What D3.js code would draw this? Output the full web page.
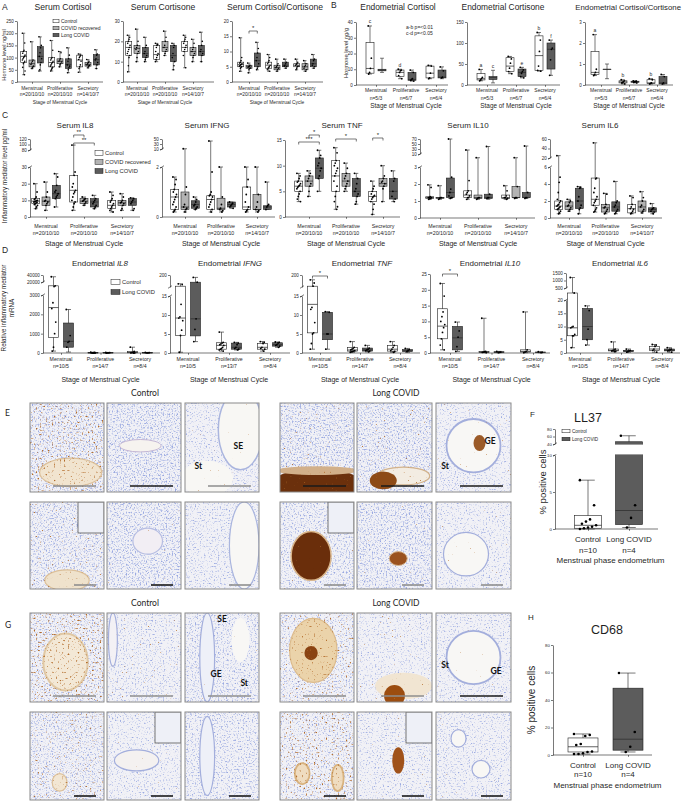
<!DOCTYPE html>
<html>
<head>
<meta charset="utf-8">
<title>Long COVID endometrium figure</title>
<script src="https://cdn.jsdelivr.net/npm/d3@7"></script>
<style>
  body { margin: 0; background: #fff; }
  svg { display: block; }
</style>
</head>
<body>
<script>
// ---- values ----
var stages = ["Menstrual", "Proliferative", "Secretory"]
var serumGroups = ["Control", "COVID recovered", "Long COVID"]
var endoGroups = ["Control", "Long COVID"]
var serumN = ["n=20/10/10", "n=20/10/10", "n=14/10/7"]
var endoHormoneN = ["n=5/3", "n=6/7", "n=6/4"]
var mrnaN = ["n=10/5", "n=14/7", "n=8/4"]
var mrnaIfngN = ["n=10/5", "n=13/7", "n=8/4"]
var ihcCats = ["Control", "Long COVID"]
var ihcN = ["n=10", "n=4"]

// box stats are [min, q1, median, q3, max]; order = stage x group
var serumCortisol = [[30,80,105,125,200],[55,62,75,90,165],[45,78,105,145,185],[45,62,80,100,170],[62,75,85,95,125],[38,55,72,95,140],[40,62,90,110,115],[58,65,72,80,92],[55,70,92,112,132]]
var serumCortisolPts = [[200,160,130,125,118,110,105,100,95,90,85,80,75,60,45,30],[165,90,85,78,72,65,60,55],[185,150,140,120,105,95,80,70,50,45],[170,130,100,95,90,85,80,75,70,65,60,55,50,45],[125,120,95,90,85,82,75,70,62],[140,110,95,85,70,65,58,50,38],[115,110,105,100,92,85,70,62,55,40],[92,85,80,75,70,68,65,58],[132,115,110,95,90,80,70,55]]
var serumCortisone = [[5,13,17,20,23],[10,14,16.5,18,26],[10,12,14,17,22],[10,11,13.5,18,19],[13,15,17,20,25],[6,10,13,18,19],[7,15,17,20,23],[10,13,15,17,21],[10,13,15,18,24.5]]
var serumCortisonePts = [[23,22,21,20,19,18,17,16,15,14,13,12,8,5],[26,20,18,17,16,15,14,12,10],[22,18,17,15,14,13,12,11,10],[19,18.5,18,17,15,14,13,12,11,10],[25,22,20,18,17,16,15,14,13],[19,18,17,14,12,10,8,6],[23,22,21,20,19,18,17,16,15,13,7],[21,19,17,16,15,14,13,12,10],[24.5,20,18,16,15,14,13,10]]
var serumRatio = [[3.5,5,5.7,6.5,14.5],[3,4.5,5,5.5,6.2],[4,5,7,9.5,13],[3.5,4.5,5.5,6.5,9],[3.5,4,4.7,5.5,7.5],[4.5,5,5.5,6.5,7.5],[4,5,5.5,6,7.5],[3.5,4,5,6,7],[4.5,5,6,7.5,9]]
var serumRatioPts = [[14.5,8,7,6.5,6.2,6,5.8,5.6,5.4,5.2,5,4.8,4.5,3.5],[6.2,5.5,5.2,5,4.8,4.6,4.5,4,3],[13,11,9.5,8,7,6,5,4.5,4],[9,8,7,6.5,6,5.5,5,4.8,4.5,4,3.5],[7.5,6,5.5,5,4.7,4.5,4,3.5],[7.5,6.5,6,5.5,5.2,5,4.5],[7.5,6.5,6,5.8,5.5,5.2,5,4.5,4],[7,6,5.5,5,4.5,4,3.5],[9,7.5,7,6,5.5,5,4.5]]

var endoCortisol = [[7,7.5,10.5,27,37.5],[8,9,9.5,10,17],[4,5.5,8,9.5,10],[2.5,3,3.5,8,9.5],[4,4.5,7.5,12,12.5],[4,4.5,5,9.5,11.5]]
var endoCortisolPts = [[37.5,17,10.5,8,7],[],[10,9.5,9,8,6,4],[9.5,8,4,3.5,3,2.5],[12.5,12,7.5,4.5,4],[11.5,9,5,4.5]]
var endoCortisone = [[10,12,15,27,37],[5,13,18,20,35],[27,32,45,65,68],[17,20,30,38,42],[33,35,70,117,125],[23,38,85,100,107]]
var endoCortisonePts = [[37,18,15,12,10],[],[68,62,52,40,32,27],[42,36,32,28,20,17],[125,107,80,45,35,33],[107,88,85,60,23]]
var endoRatio = [[0.45,0.5,0.6,1.6,2.4],[0.3,0.75,0.75,0.75,1.0],[0.05,0.1,0.15,0.2,0.25],[0.1,0.13,0.16,0.18,0.2],[0.05,0.08,0.1,0.25,0.3],[0.05,0.05,0.1,0.4,0.5]]
var endoRatioPts = [[2.4,0.75,0.6,0.5,0.45],[],[0.25,0.2,0.15,0.12,0.1,0.05],[0.2,0.18,0.16,0.15,0.13,0.1],[0.3,0.25,0.1,0.08,0.05],[0.5,0.4,0.1,0.05]]

var serumIL8 = [[5,8,9.5,11,20],[4,7,9.5,12,21],[6,11,14,19,26],[4,9,16,25,98],[7,8,9.5,11,12],[5,6,9,11,13],[3,5,7,10,15],[4,7,8.5,10,14],[4,7,9,11,11.5]]
var serumIL8Pts = [[20,15,12,11,10.5,10,9.8,9.5,9.2,9,8.8,8.5,8,7.5,7,6,5],[21,15,12,10,9.5,9,8,7,4],[26,24,19,16,15,14,13,12,11,6],[98,27,25,20,18,16,15,14,12,10,9,8,6,4],[12,11,10.5,10,9.5,9,8,7],[13,11,10,9,8,7,6,5],[15,13,11,10,9,8,7,6,5,4,3],[14,12,10,9,8.5,8,7,5,4],[11.5,11,10,9,8,5,4]]
var serumIFNG = [[0.2,0.3,0.8,1.1,1.6],[0.2,0.3,0.4,1.0,11],[0.3,0.35,0.5,0.65,0.8],[0.2,0.3,0.7,0.85,42],[0.2,0.3,0.35,0.75,2],[0.35,0.4,0.5,0.6,0.6],[0.2,0.3,0.4,1.2,2],[0.2,0.3,0.3,0.9,2],[0.3,0.3,0.4,0.45,1.4]]
var serumIFNGPts = [[1.6,1.5,1.3,1.1,1.0,0.9,0.8,0.7,0.6,0.5,0.4,0.3,0.25,0.2],[11,1.2,0.9,0.5,0.4,0.35,0.3,0.2],[0.8,0.7,0.6,0.5,0.45,0.4,0.35,0.3],[42,1.8,1.0,0.9,0.85,0.8,0.7,0.6,0.5,0.4,0.3,0.2],[2,0.8,0.5,0.35,0.3,0.25,0.2],[0.6,0.55,0.5,0.45,0.4,0.35],[2,1.5,1.2,0.9,0.6,0.4,0.3,0.25,0.2],[2,0.9,0.6,0.4,0.3,0.25,0.2],[1.4,0.5,0.45,0.4,0.3]]
var serumTNF = [[3,5,6,7,8.5],[4,6,7,8,9],[5,7.5,9.5,11.5,13],[1.5,5,8,11,13.5],[5,6,7,8.5,10.5],[2.5,4,5,7.5,8.5],[0.5,3,4,5,7],[3,6,6.5,7.5,10],[3,3.5,5,7.5,9]]
var serumTNFPts = [[8.5,8,7.5,7,6.8,6.5,6.2,6,5.8,5.5,5,4.5,4,3.5,3],[9,8.5,8,7.5,7,6.5,6,5,4],[13,12,11.5,10.5,10,9.5,9,8,7.5,5],[13.5,12.5,11,10.5,10,9.5,9,8.5,8,7,6,5,4,3,2,1.5],[10.5,9.5,8.5,8,7.5,7,6.5,6,5.5,5],[8.5,7.5,6.5,5.5,5,4.5,4,3,2.5],[7,6,5.5,5,4.5,4.2,4,3.8,3.5,3,2.5,1.5,0.5],[10,8,7.5,7,6.8,6.5,6,5.5,3],[9,7.5,7,5,4,3.5,3]]
var serumIL10 = [[1.1,1.15,1.2,1.25,1.95],[1.1,1.15,1.2,1.2,1.9],[1.15,1.2,1.5,2.35,70],[1.1,1.2,1.35,1.6,26],[1.1,1.15,1.2,1.35,8],[1.1,1.15,1.2,1.4,40],[1.1,1.15,1.2,1.35,1.9],[1.15,1.2,1.2,1.85,8],[1.15,1.2,1.2,1.5,42]]
var serumIL10Pts = [[1.95,1.8,1.25,1.2,1.2,1.2,1.15,1.15,1.1],[1.9,1.2,1.2,1.15,1.1],[70,2.4,1.7,1.5,1.3,1.2,1.2,1.15],[26,2.2,1.6,1.5,1.4,1.3,1.2,1.2,1.1],[8,1.2,1.2,1.15,1.1],[40,1.4,1.2,1.2,1.15],[1.9,1.6,1.3,1.2,1.2,1.15,1.1],[8,1.85,1.2,1.2,1.15],[42,1.5,1.2,1.2,1.15]]
var serumIL6 = [[0.5,1.0,1.4,2.0,25],[0.8,1.0,1.4,1.9,2.2],[0.5,1.1,2.0,3.5,3.7],[0.7,1.5,2.2,4.7,52],[0.5,0.7,1.2,1.6,2.9],[0.5,0.8,1.3,1.9,4.3],[0.5,0.6,1.1,1.6,2.6],[0.6,0.8,1.3,2.0,3.1],[0.5,0.7,1.0,1.2,1.7]]
var serumIL6Pts = [[25,4.8,4.2,3,2.2,2,1.8,1.6,1.5,1.4,1.3,1.2,1.1,1,0.8,0.6,0.5],[2.2,2,1.8,1.5,1.4,1.2,1,0.8],[3.7,3.6,3.5,2.5,2,1.5,1.2,1,0.5],[52,4.7,4.6,3.5,3,2.5,2.2,2,1.8,1.5,1.2,1,0.8,0.7],[2.9,2.8,1.6,1.3,1.2,1,0.8,0.6,0.5],[4.3,2,1.8,1.5,1.3,1,0.8,0.6,0.5],[2.6,2.4,1.6,1.3,1.1,1,0.8,0.6,0.5],[3.1,2.4,2,1.5,1.3,1,0.8,0.6],[1.7,1.2,1.1,1,0.8,0.7,0.5]]

var endoIL8 = [[100,800,2350,15000,35000],[50,300,600,1550,2250],[0,5,10,20,40],[0,5,10,20,30],[0,10,30,80,300],[0,5,10,20,30]]
var endoIL8Pts = [[35000,15000,14000,2600,2300,1600,1000,300,100],[2250,900,600,550,300],[40,30,20,10,8,5,3,1],[30,20,10,5,0],[300,80,40,20,10,5,0],[30,20,10,5]]
var endoIFNG = [[0.2,4.6,9.2,60,90],[3,4.5,9,110,170],[0.5,1,2,2.7,5.5],[0.8,1,1.5,2.6,2.8],[0.5,1,1.5,2.5,3],[1.5,1.8,2.2,2.7,2.9]]
var endoIFNGPts = [[90,80,12.8,9.5,9.2,8.5,6,4.6,0.2],[170,110,9,6.2,3],[5.5,2.8,2.6,2.4,2.2,2,1.5,1.2,1,0.8,0.5],[2.8,2.6,2.2,1.5,1.2,1,0.8],[3,2.8,2.5,1.5,1.2,1,0.5],[2.9,2.8,2.6,2.2,2,1.8,1.5]]
var endoTNF = [[1,5.3,12.8,60,140],[1,3.5,5,10.7,10.9],[0.2,0.5,0.8,1.5,3],[0.3,0.5,0.8,1.3,2],[0.2,0.5,1,2,3],[0.2,0.4,0.6,0.9,1.2]]
var endoTNFPts = [[140,100,60,12,11.5,8,5.3,5,2.5,1],[10.9,10.7,5,5,1],[3,1.5,1.2,1,0.8,0.6,0.5,0.4,0.3,0.2],[2,1.3,1,0.8,0.6,0.5,0.3],[3,2,1.5,1,0.6,0.4,0.2],[1.2,0.9,0.6,0.4]]
var endoIL10 = [[1,4.5,8.5,14,22],[0.5,1,4.8,8.4,9.8],[0.1,0.2,0.3,0.5,11],[0.1,0.2,0.25,0.4,0.5],[0.1,0.3,0.5,1,13],[0.1,0.15,0.2,0.3,0.4]]
var endoIL10Pts = [[22,18,13,11.5,10,9,8,6.5,4.5,2.5,1],[9.8,7,5,2,0.5],[11,0.5,0.4,0.3,0.2,0.1],[0.5,0.3,0.2,0.1],[13,1,0.5,0.3,0.1],[0.4,0.2,0.1]]
var endoIL6 = [[2,6.5,9.5,300,1200],[3,5,10,16.8,17.8],[0.5,0.8,1,1.5,4.2],[0.3,0.5,0.8,1,1.5],[0.3,1,1.5,2.5,3.2],[0.3,0.8,1,1.5,2]]
var endoIL6Pts = [[1200,300,10,9.8,9.5,7,6.5,6.5,2],[17.8,16,9,5,3],[4.2,1.5,1.2,1,0.8,0.6,0.5],[1.5,1,0.8,0.5,0.3],[3.2,3,2.5,1.5,1,0.3],[2,1.5,1.2,1,0.8,0.3]]

var ll37 = [[0,0.1,0.5,1.8,6.6],[0.2,0.6,2.5,46,62]]
var ll37Pts = [[6.6,3.2,1.3,1,0.7,0.5,0.3,0.2,0.1,0],[62,3.2,1.5,0.2]]
var cd68 = [[0.7,2.2,6,12.4,15.3],[2.2,3.5,11.5,48.6,59.6]]
var cd68Pts = [[15.3,14.5,13.8,8,7.3,2.5,2.2,1.2,0.7,0.7],[59.6,16.7,6,2.2]]

// ---- drawing ----
var FONT = '"Liberation Sans", Arial, sans-serif'
var INK = "#1f1f1f"
var WHITE = "#ffffff", GREY = "#b3b3b3", DARK = "#5c5c5c"

var svg = d3.select("body").append("svg").attr("width", 683).attr("height", 804)
  .style("font-family", FONT)
var defs = svg.append("defs")

function txt(x, y, s, fs, anchor, g) {
  return (g || svg).append("text").attr("x", x).attr("y", y).attr("font-size", fs)
    .attr("text-anchor", anchor || "middle").attr("fill", INK).text(s)
}

function boxPanel(c) {
  var g = svg.append("g")
  var ys = c.segs.map(s => d3.scaleLinear().domain(s.dom).range(s.rng))
  var y = v => {
    for (var i = 0; i < c.segs.length; i++) {
      var d = c.segs[i].dom
      if (v < d[0] && i > 0) {
        var p = c.segs[i - 1]
        return d3.scaleLinear().domain([p.dom[1], d[0]]).range([p.rng[1], c.segs[i].rng[0]])(v)
      }
      if (v <= d[1] || i == c.segs.length - 1) return ys[i](v)
    }
  }
  var base = c.segs[0].rng[0]
  // y axis, one piece per segment
  c.segs.forEach((s, i) => {
    var a = g.append("g").attr("transform", `translate(${c.ax},0)`)
      .call(d3.axisLeft(ys[i]).tickValues(s.ticks).tickSize(2).tickSizeOuter(0).tickPadding(1.2).tickFormat(d3.format("d")))
    a.attr("font-family", null).attr("font-size", null)
    a.selectAll("path,line").attr("stroke", INK).attr("stroke-width", 0.6)
    a.selectAll("text").attr("font-size", c.tfs).attr("fill", INK)
    if (i > 0) {
      [c.segs[i - 1].rng[1], s.rng[0]].forEach(yy => {
        g.append("line").attr("x1", c.ax - 2).attr("x2", c.ax + 2).attr("y1", yy + 1.3).attr("y2", yy - 1.3)
          .attr("stroke", INK).attr("stroke-width", 0.6)
      })
    }
  })
  // x axis
  var xg = d3.scalePoint().domain(c.cats).range([c.c0, c.c2])
  var xs = d3.scalePoint().domain(c.series).range(c.series.length > 1 ? [-c.off, c.off] : [0, 0])
  g.append("line").attr("x1", c.ax).attr("x2", c.xEnd).attr("y1", base).attr("y2", base)
    .attr("stroke", INK).attr("stroke-width", 0.6)
  var xa = g.append("g").attr("transform", `translate(0,${base})`)
    .call(d3.axisBottom(xg).tickSize(1.8).tickFormat(""))
  xa.select(".domain").remove()
  xa.selectAll("line").attr("stroke", INK).attr("stroke-width", 0.6)

  c.cats.forEach((cat, gi) => {
    txt(xg(cat), c.catY, cat, c.cfs, "middle", g)
    if (c.ns) txt(xg(cat), c.nY, c.ns[gi], c.cfs, "middle", g)
  })
  txt((c.c0 + c.c2) / 2 + (c.stageDx || 0), c.stageY, c.stage, c.sfs, "middle", g)

  // title
  var t = g.append("text").attr("x", c.tx).attr("y", c.ty).attr("font-size", c.ttfs)
    .attr("text-anchor", c.tAnchor || "middle").attr("fill", INK)
  c.title.forEach(p => t.append("tspan").text(p[0]).attr("font-style", p[1] ? "italic" : null))

  // boxes
  c.cats.forEach((cat, gi) => c.series.forEach((ser, si) => {
    var k = gi * c.series.length + si
    var st = c.stats[k], cx = xg(cat) + xs(ser), hw = c.bw / 2
    var fill = c.boxFills ? c.boxFills[k] : c.fills[si]
    var b = g.append("g")
    b.append("line").attr("x1", cx).attr("x2", cx).attr("y1", y(st[0])).attr("y2", y(st[4]))
      .attr("stroke", INK).attr("stroke-width", 0.6)
    ;[st[0], st[4]].forEach(v => b.append("line").attr("x1", cx - hw * 0.5).attr("x2", cx + hw * 0.5)
      .attr("y1", y(v)).attr("y2", y(v)).attr("stroke", INK).attr("stroke-width", 0.6))
    b.append("rect").attr("x", cx - hw).attr("width", c.bw).attr("y", y(st[3]))
      .attr("height", Math.max(0.4, y(st[1]) - y(st[3]))).attr("fill", fill)
      .attr("stroke", INK).attr("stroke-width", 0.6)
    b.append("line").attr("x1", cx - hw).attr("x2", cx + hw).attr("y1", y(st[2])).attr("y2", y(st[2]))
      .attr("stroke", fill == DARK ? "#2a2a2a" : INK).attr("stroke-width", 0.7)
    var pts = c.pts[k] || []
    b.selectAll("circle").data(pts).join("circle")
      .attr("cx", (v, i) => cx + (((i * 7) % 9) - 4) / 4 * hw * (c.spread || 0.45))
      .attr("cy", v => y(v)).attr("r", c.pr || 0.9).attr("fill", "#000")
  }))
  if (c.cutGap) {
    g.append("rect").attr("x", c.ax + 0.5).attr("width", c.xEnd - c.ax)
      .attr("y", c.segs[1].rng[0] + 0.6).attr("height", c.segs[0].rng[1] - c.segs[1].rng[0] - 1.2).attr("fill", "#fff")
  }
  ;(c.sigs || []).forEach(s => {
    var x1 = xg(c.cats[s.g]) + xs(c.series[s.a]), x2 = xg(c.cats[s.g]) + xs(c.series[s.b])
    g.append("path").attr("d", `M${x1},${s.y + 2.5}V${s.y}H${x2}V${s.y + 2.5}`)
      .attr("fill", "none").attr("stroke", INK).attr("stroke-width", 0.6)
    txt((x1 + x2) / 2, s.y - 0.8, s.t, 6, "middle", g)
  })
  ;(c.letters || []).forEach(l => {
    var gi = Math.floor(l.k / c.series.length), si = l.k % c.series.length
    txt(xg(c.cats[gi]) + xs(c.series[si]), y(c.stats[l.k][4]) - 2.5, l.t, 5, "middle", g)
  })
}

function legend(x, ys, items, bw, bh, fs) {
  items.forEach((it, i) => {
    svg.append("rect").attr("x", x).attr("y", ys[i] - bh / 2).attr("width", bw).attr("height", bh)
      .attr("fill", it[1]).attr("stroke", INK).attr("stroke-width", 0.5)
    txt(x + bw + 2, ys[i] + fs * 0.35, it[0], fs, "start")
  })
}

function ylab(x, y, s, fs) {
  svg.append("text").attr("transform", `translate(${x},${y}) rotate(-90)`).attr("font-size", fs)
    .attr("text-anchor", "middle").attr("fill", INK).text(s)
}

var serumFills = [WHITE, GREY, DARK], endoFills = [WHITE, DARK]

// panel letters
;[["A", 2, 10], ["B", 331, 8], ["C", 2, 118], ["D", 2, 253]].forEach(d => txt(d[1], d[2], d[0], 8.5, "start"))

// ---- A ----
var aBase = { segs: null, cats: stages, series: serumGroups, fills: serumFills, ns: serumN, off: 8.3, bw: 6,
  catY: 89.5, nY: 95.8, stageY: 104, cfs: 4.9, sfs: 4.9, tfs: 4.5, ttfs: 8.6, ty: 10, stage: "Stage of Menstrual Cycle", pr: 0.8 }
boxPanel(Object.assign({}, aBase, { ax: 17, xEnd: 103, c0: 32, c2: 88, tx: 63, title: [["Serum Cortisol"]],
  segs: [{ dom: [0, 250], rng: [82, 21], ticks: [0, 50, 100, 150, 200, 250] }], stats: serumCortisol, pts: serumCortisolPts }))
boxPanel(Object.assign({}, aBase, { ax: 123, xEnd: 214, c0: 137, c2: 193, tx: 163, title: [["Serum Cortisone"]],
  segs: [{ dom: [0, 30], rng: [82, 21], ticks: [0, 10, 20, 30] }], stats: serumCortisone, pts: serumCortisonePts }))
boxPanel(Object.assign({}, aBase, { ax: 232, xEnd: 323, c0: 249, c2: 305, tx: 275, title: [["Serum Cortisol/Cortisone"]],
  segs: [{ dom: [0, 20], rng: [82, 21], ticks: [0, 5, 10, 15, 20] }], stats: serumRatio, pts: serumRatioPts,
  sigs: [{ g: 0, a: 1, b: 2, y: 31, t: "*" }] }))
legend(53, [21, 28, 35], [["Control", WHITE], ["COVID recovered", GREY], ["Long COVID", DARK]], 6, 3.5, 5)
ylab(6, 55, "Hormone level ng/ml", 5.6)

// ---- B ----
var bBase = { cats: stages, series: endoGroups, fills: endoFills, ns: endoHormoneN, off: 6, bw: 8,
  catY: 92, nY: 100, stageY: 108, cfs: 5, sfs: 6.4, tfs: 4.5, ttfs: 8.4, ty: 10, stage: "Stage of Menstrual Cycle", pr: 0.9 }
boxPanel(Object.assign({}, bBase, { ax: 356, xEnd: 448, c0: 376, c2: 436, tx: 398, title: [["Endometrial Cortisol"]],
  segs: [{ dom: [0, 40], rng: [85, 22], ticks: [0, 10, 20, 30, 40] }], stats: endoCortisol, pts: endoCortisolPts,
  letters: [{ k: 0, t: "c" }, { k: 2, t: "d" }] }))
txt(406, 29, "a-b p=<0.01", 5, "start")
txt(406, 35, "c-d p=<0.05", 5, "start")
boxPanel(Object.assign({}, bBase, { ax: 467, xEnd: 560, c0: 487, c2: 545, tx: 503, title: [["Endometrial Cortisone"]],
  segs: [{ dom: [0, 150], rng: [85, 22], ticks: [0, 50, 100, 150] }], stats: endoCortisone, pts: endoCortisonePts,
  letters: [{ k: 0, t: "a" }, { k: 1, t: "c" }, { k: 3, t: "e" }, { k: 4, t: "b" }, { k: 5, t: "f" }] }))
boxPanel(Object.assign({}, bBase, { ax: 585, xEnd: 673, c0: 601, c2: 657, tx: 681, tAnchor: "end", ttfs: 7.8,
  title: [["Endometrial Cortisol/Cortisone"]],
  segs: [{ dom: [0, 3], rng: [85, 22], ticks: [0, 1, 2, 3] }], stats: endoRatio, pts: endoRatioPts,
  letters: [{ k: 0, t: "a" }, { k: 2, t: "b" }, { k: 4, t: "b" }] }))
ylab(347.5, 53, "Hormone level ng/g", 5.8)

// ---- C ----
var cBase = { cats: stages, series: serumGroups, fills: serumFills, ns: serumN, off: 10.3, bw: 8,
  catY: 227.5, nY: 235, stageY: 245.5, cfs: 5.3, sfs: 7, tfs: 4.6, ttfs: 8, ty: 128, stage: "Stage of Menstrual Cycle", pr: 0.9 }
boxPanel(Object.assign({}, cBase, { ax: 30, xEnd: 140, c0: 46, c2: 122, tx: 75, title: [["Serum IL8"]],
  segs: [{ dom: [0, 30], rng: [217, 167], ticks: [0, 10, 20, 30] }, { dom: [80, 120], rng: [150, 139], ticks: [80, 100, 120] }],
  stats: serumIL8, pts: serumIL8Pts, sigs: [{ g: 1, a: 0, b: 1, y: 135, t: "**" }, { g: 1, a: 0, b: 2, y: 143, t: "**" }] }))
boxPanel(Object.assign({}, cBase, { ax: 162, xEnd: 275, c0: 185, c2: 257, tx: 207, title: [["Serum IFNG"]],
  segs: [{ dom: [0, 2], rng: [217, 167], ticks: [0, 2] }, { dom: [10, 50], rng: [149, 139], ticks: [10, 30, 50] }],
  stats: serumIFNG, pts: serumIFNGPts }))
boxPanel(Object.assign({}, cBase, { ax: 285, xEnd: 400, c0: 309, c2: 383, tx: 342, title: [["Serum TNF"]],
  segs: [{ dom: [0, 15], rng: [217, 140], ticks: [0, 5, 10, 15] }], stats: serumTNF, pts: serumTNFPts,
  sigs: [{ g: 0, a: 0, b: 2, y: 142, t: "***" }, { g: 0, a: 1, b: 2, y: 135, t: "*" }, { g: 1, a: 0, b: 2, y: 139, t: "*" }, { g: 2, a: 0, b: 1, y: 138, t: "*" }] }))
boxPanel(Object.assign({}, cBase, { ax: 420, xEnd: 535, c0: 440, c2: 516, tx: 468, title: [["Serum IL10"]],
  segs: [{ dom: [0, 3], rng: [218, 167], ticks: [0, 1, 2, 3] }, { dom: [10, 70], rng: [154, 139], ticks: [10, 30, 50, 70] }],
  stats: serumIL10, pts: serumIL10Pts }))
boxPanel(Object.assign({}, cBase, { ax: 550, xEnd: 662, c0: 569, c2: 642, tx: 600, title: [["Serum IL6"]],
  segs: [{ dom: [0, 6], rng: [218, 167], ticks: [0, 2, 4, 6] }, { dom: [20, 60], rng: [158, 139], ticks: [20, 40, 60] }],
  stats: serumIL6, pts: serumIL6Pts }))
legend(95, [153, 162, 171], [["Control", WHITE], ["COVID recovered", GREY], ["Long COVID", DARK]], 8, 5, 5.8)
ylab(7, 176, "Inflammatory mediator level pg/ml", 6.3)

// ---- D ----
var dBase = { cats: stages, series: endoGroups, fills: endoFills, ns: mrnaN, off: 7.5, bw: 10,
  catY: 361, nY: 368.3, stageY: 381.5, cfs: 5.2, sfs: 7, tfs: 4.6, ttfs: 8, ty: 266, stage: "Stage of Menstrual Cycle", pr: 0.9 }
var dSegs15 = [{ dom: [0, 15], rng: [353, 296], ticks: [0, 5, 10, 15] }, { dom: [50, 200], rng: [287, 275], ticks: [200] }]
boxPanel(Object.assign({}, dBase, { ax: 43, xEnd: 160, c0: 61, c2: 140, tx: 100, title: [["Endometrial "], ["IL8", 1]],
  segs: [{ dom: [0, 3000], rng: [353, 295], ticks: [0, 1000, 2000, 3000] }, { dom: [20000, 40000], rng: [282, 275], ticks: [20000, 40000] }],
  stats: endoIL8, pts: endoIL8Pts }))
boxPanel(Object.assign({}, dBase, { ax: 170, xEnd: 290, c0: 188, c2: 270, tx: 230, title: [["Endometrial "], ["IFNG", 1]],
  segs: dSegs15, ns: mrnaIfngN, stats: endoIFNG, pts: endoIFNGPts }))
boxPanel(Object.assign({}, dBase, { ax: 302, xEnd: 420, c0: 320, c2: 400, tx: 362, title: [["Endometrial "], ["TNF", 1]],
  segs: dSegs15, stats: endoTNF, pts: endoTNFPts, sigs: [{ g: 0, a: 0, b: 1, y: 276, t: "*" }] }))
boxPanel(Object.assign({}, dBase, { ax: 430, xEnd: 550, c0: 450, c2: 533, tx: 490, title: [["Endometrial "], ["IL10", 1]],
  segs: [{ dom: [0, 25], rng: [353, 274], ticks: [0, 5, 10, 15, 20, 25] }], stats: endoIL10, pts: endoIL10Pts,
  sigs: [{ g: 0, a: 0, b: 1, y: 274, t: "*" }] }))
boxPanel(Object.assign({}, dBase, { ax: 566, xEnd: 680, c0: 580, c2: 662, tx: 620, title: [["Endometrial "], ["IL6", 1]],
  segs: [{ dom: [0, 20], rng: [353, 300], ticks: [0, 5, 10, 15, 20] }, { dom: [500, 1500], rng: [288, 273], ticks: [500, 1000, 1500] }],
  stats: endoIL6, pts: endoIL6Pts }))
legend(111, [282, 292], [["Control", WHITE], ["Long COVID", DARK]], 9, 5, 5.8)
ylab(6, 308, "Relative inflammatory mediator", 6.3)
ylab(14, 308, "mRNA", 6.3)

// ---- F and H ----
var ihcBase = { cats: ihcCats, series: ["all"], boxFills: [WHITE, DARK], ns: ihcN, bw: 27, off: 0,
  cfs: 8, sfs: 8, tfs: 4.3, ttfs: 12.5, stage: "Menstrual phase endometrium", pr: 1.3, spread: 0.6, stageDx: 2 }
boxPanel(Object.assign({}, ihcBase, { ax: 555, xEnd: 658, c0: 588, c2: 629, tx: 588, ty: 422, title: [["LL37"]],
  catY: 542, nY: 553, stageY: 563,
  segs: [{ dom: [0, 10], rng: [529, 455], ticks: [0, 5, 10] }, { dom: [40, 80], rng: [444, 429], ticks: [40, 60, 80] }],
  stats: ll37, pts: ll37Pts, cutGap: true }))
legend(562, [431, 439], [["Control", WHITE], ["Long COVID", DARK]], 8, 3.5, 4.6)
ylab(546, 482, "% positive cells", 9.5)
boxPanel(Object.assign({}, ihcBase, { ax: 553, xEnd: 652, c0: 583, c2: 628, tx: 607, ty: 634, title: [["CD68"]],
  catY: 768, nY: 777, stageY: 788, bw: 30,
  segs: [{ dom: [0, 80], rng: [755, 645], ticks: [0, 20, 40, 60, 80] }], stats: cd68, pts: cd68Pts }))
ylab(535, 700, "% positive cells", 10)
txt(530, 417, "F", 8, "start")
txt(528, 620, "H", 8, "start")

// ---- micrographs (E, G): stained tissue drawn as textured panels ----
var microCols = [[30, 104], [107, 181], [185, 259], [280, 354], [357, 432], [436, 511]]
var microRows = [[403, 492], [502, 589], [613, 702], [712, 800]]
var GB = "#8e8e8e", BK = "#1a1a1a"
var barCols = [[GB, BK, GB, BK, BK, BK], [GB, BK, GB, GB, GB, GB], [GB, GB, GB, GB, GB, BK], [BK, BK, BK, BK, BK, BK]]
var microLook = [
  { d: .55, b: .55, s: [[.55, .78, .42, .16, "#f1e4cf", "#dcc09a", 1.2]] },
  { d: .62, b: 0, s: [[.45, .48, .28, .07, "#f6f3ef", "#c3b6d4", 1]] },
  { d: .3, b: .08, s: [[.75, .3, .3, .45, "#f8f7f4", "#aab5de", 1.5], [.3, .85, .35, .2, "#f8f7f4", null, 0]], t: [["St", .18, .74], ["SE", .72, .52]] },
  { d: .62, b: .3, s: [[.5, .93, .62, .2, "#6b300c", null, 0], [.5, .76, .55, .05, "#d2b08a", null, 0]] },
  { d: .6, b: .3, s: [[.62, .82, .35, .1, "#f3ece2", "#d2b28c", 1.2], [.35, .87, .18, .1, "#8d4a17", null, 0]] },
  { d: .3, b: .15, s: [[.5, .48, .36, .3, "#f8f7f5", "#a3aedc", 1.8], [.58, .45, .08, .09, "#9b5a28", null, 0]], t: [["GE", .72, .46], ["St", .12, .74]] },
  { d: .55, b: .35, s: [[.5, .9, .3, .12, "#efe2cc", "#dcc09a", 1.2]], inset: 1 },
  { d: .6, b: .05, s: [[.55, .45, .2, .15, "#f2eef4", "#b6bde2", 1.2]] },
  { d: .35, b: 0, s: [[.8, .5, .2, .5, "#f8f7f5", "#aab5de", 1.2]] },
  { d: .5, b: .2, s: [[.42, .62, .27, .28, "#6a2e0b", "#d8b48a", 1.5]], inset: 1 },
  { d: .6, b: .15, s: [[.55, .65, .12, .08, "#9a521f", "#d6b690", 1]] },
  { d: .28, b: .1, s: [[.4, .6, .3, .25, "#f8f7f5", "#a3aedc", 1.2]] },
  { d: .45, b: .6, s: [[.48, .55, .3, .32, "#f3e8d6", "#e0c8a4", 2]] },
  { d: .3, b: .25, s: [[.08, .3, .06, .3, "#f3f1f5", "#a3aedc", 1.2]] },
  { d: .5, b: .05, s: [[.3, .5, .1, .5, "#eef0f8", "#a3aedc", 1.2], [.75, .3, .12, .25, "#f8f7f5", null, 0]], t: [["SE", .5, .1], ["GE", .42, .72], ["St", .8, .82]] },
  { d: .4, b: .5, s: [[.45, .42, .32, .36, "#ebd3aa", "#dcbb8c", 1.2], [.42, .45, .09, .08, "#8a4312", null, 0]] },
  { d: .28, b: .25, s: [[.62, .82, .38, .15, "#f1e5d2", null, 0], [.5, .93, .14, .12, "#9c4d10", null, 0]] },
  { d: .3, b: .12, s: [[.5, .5, .36, .3, "#f8f7f5", "#a3aedc", 1.8]], t: [["St", .12, .62], ["GE", .8, .68]] },
  { d: .5, b: .45, s: [[.4, .8, .1, .1, "#f2e6d3", "#dcc09a", 1.2]] },
  { d: .3, b: .15, s: [[.4, .55, .3, .12, "#f4f1f0", "#a3aedc", 1.2]], inset: 1 },
  { d: .45, b: 0, s: [[.3, .5, .1, .45, "#eef0f8", "#a3aedc", 1.2]] },
  { d: .4, b: .55, s: [[.3, .7, .1, .12, "#efdcc0", "#d8b27e", 1.8], [.78, .75, .08, .15, "#efdcc0", "#d8b27e", 1.8]] },
  { d: .28, b: .2, s: [[.55, .55, .08, .15, "#a0521a", null, 0]], inset: 1 },
  { d: .32, b: .1, s: [[.3, .3, .1, .1, "#f8f7f5", "#a3aedc", 1.2], [.6, .65, .12, .1, "#f8f7f5", "#a3aedc", 1.2]] }
]

function texFilter(id, seed, freq, rgb, k, off) {
  var f = defs.append("filter").attr("id", id).attr("x", 0).attr("y", 0).attr("width", 1).attr("height", 1)
    .attr("color-interpolation-filters", "sRGB")
  f.append("feTurbulence").attr("type", "fractalNoise").attr("baseFrequency", freq).attr("numOctaves", 2)
    .attr("seed", seed).attr("result", "t")
  f.append("feColorMatrix").attr("in", "t").attr("type", "matrix")
    .attr("values", `0 0 0 0 ${rgb[0]} 0 0 0 0 ${rgb[1]} 0 0 0 0 ${rgb[2]} ${k} 0 0 0 ${-off}`).attr("result", "d")
  f.append("feComposite").attr("in", "d").attr("in2", "SourceGraphic").attr("operator", "in")
}

microLook.forEach((m, i) => {
  var r = Math.floor(i / 6), col = i % 6
  var x0 = microCols[col][0], x1 = microCols[col][1], y0 = microRows[r][0], y1 = microRows[r][1]
  var w = x1 - x0, h = y1 - y0
  var g = svg.append("g")
  defs.append("clipPath").attr("id", "mc" + i).append("rect").attr("x", x0).attr("y", y0).attr("width", w).attr("height", h)
  texFilter("mb" + i, i + 3, 0.65, [0.6, 0.66, 0.88], 3.6, 2.25 - m.d * 0.75)
  texFilter("mr" + i, i + 40, 0.5, [0.7, 0.42, 0.16], 7, 5.6 - m.b * 1.9)
  var inner = g.append("g").attr("clip-path", `url(#mc${i})`)
  inner.append("rect").attr("x", x0).attr("y", y0).attr("width", w).attr("height", h).attr("fill", "#f1f1f6")
  inner.append("rect").attr("x", x0).attr("y", y0).attr("width", w).attr("height", h).attr("fill", "#000").attr("filter", `url(#mb${i})`)
  m.s.forEach(s => inner.append("ellipse").attr("cx", x0 + s[0] * w).attr("cy", y0 + s[1] * h)
    .attr("rx", s[2] * w).attr("ry", s[3] * h).attr("fill", s[4]).attr("stroke", s[5] || "none").attr("stroke-width", s[6]))
  if (m.b > 0) inner.append("rect").attr("x", x0).attr("y", y0).attr("width", w).attr("height", h).attr("fill", "#000").attr("filter", `url(#mr${i})`)
  if (m.inset) {
    inner.append("rect").attr("x", x1 - 26).attr("y", y0).attr("width", 26).attr("height", 31)
      .attr("fill", "#eef0f7").attr("stroke", "#555").attr("stroke-width", 0.8)
  }
  var bl = r % 2 == 0 ? 43 : 22
  inner.append("line").attr("x1", x1 - 8 - bl).attr("x2", x1 - 8).attr("y1", y1 - (r % 2 == 0 ? 6 : 4)).attr("y2", y1 - (r % 2 == 0 ? 6 : 4))
    .attr("stroke", barCols[r][col]).attr("stroke-width", 1.6)
  ;(m.t || []).forEach(t => g.append("text").attr("x", x0 + t[1] * w).attr("y", y0 + t[2] * h).attr("font-size", 8.5)
    .attr("font-family", "Lato, 'Open Sans', sans-serif").attr("font-weight", "bold").attr("fill", "#111").attr("text-anchor", "middle").text(t[0]))
  g.append("rect").attr("x", x0).attr("y", y0).attr("width", w).attr("height", h).attr("fill", "none")
    .attr("stroke", "#8a8a8a").attr("stroke-width", 1)
})

;[[396, "E", 416], [606, "G", 628]].forEach(d => {
  svg.append("text").attr("x", 145).attr("y", d[0]).attr("font-size", 8.5).attr("font-family", "Lato, sans-serif")
    .attr("text-anchor", "middle").attr("fill", INK).text("Control")
  svg.append("text").attr("x", 396).attr("y", d[0]).attr("font-size", 8.5).attr("font-family", "Lato, sans-serif")
    .attr("text-anchor", "middle").attr("fill", INK).text("Long COVID")
  svg.append("text").attr("x", 5).attr("y", d[2]).attr("font-size", 8.5).attr("font-family", "Lato, sans-serif")
    .attr("fill", INK).text(d[1])
})
</script>
</body>
</html>
